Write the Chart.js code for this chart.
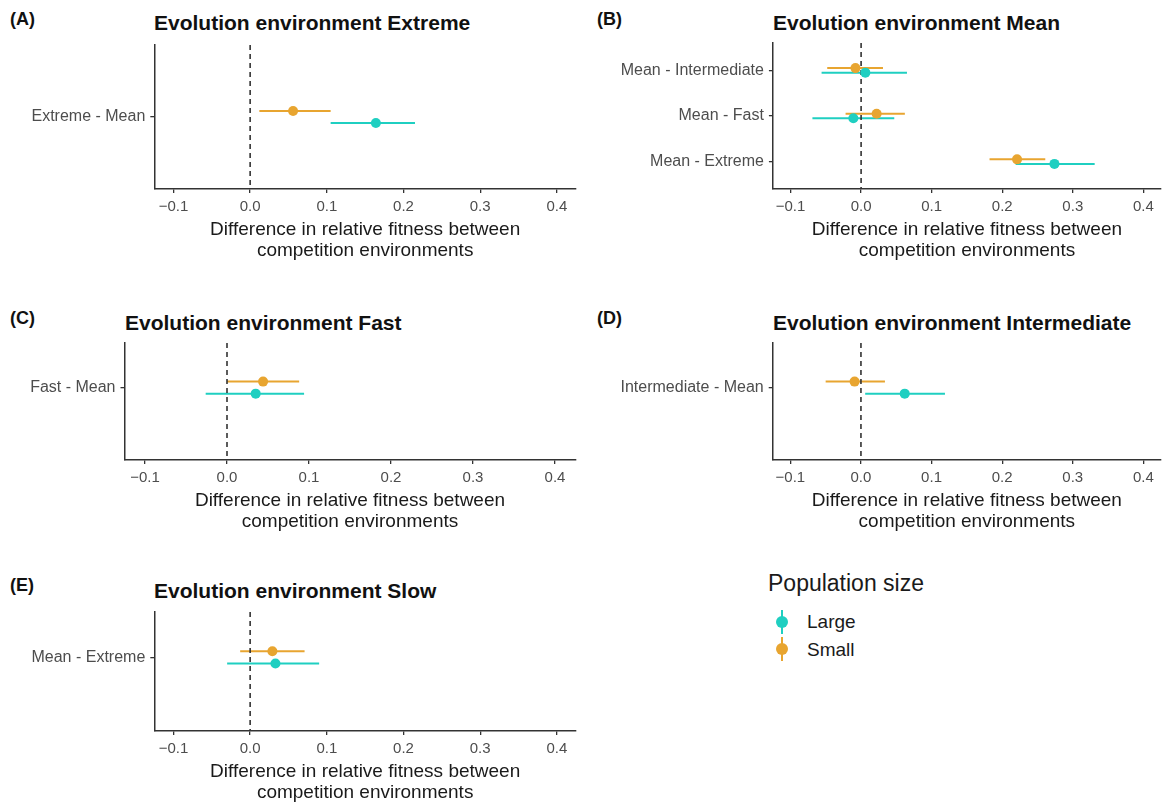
<!DOCTYPE html>
<html>
<head>
<meta charset="utf-8">
<script src="https://cdn.jsdelivr.net/npm/chart.js@4.4.1/dist/chart.umd.min.js"></script>
<style>
  body { margin: 0; background: #fff; }
  #wrap { position: relative; width: 1166px; height: 803px; background: #fff; overflow: hidden;
          font-family: 'Liberation Sans', Arial, sans-serif; }
  .panel { position: absolute; }
  .tag { position: absolute; font-weight: bold; font-size: 18px; line-height: 1; color: #111; }
  .title { position: absolute; font-weight: bold; font-size: 21px; line-height: 1; color: #111; white-space: nowrap; }
  .leg-title { position: absolute; font-size: 23px; line-height: 1; color: #1a1a1a; }
  .leg-item { position: absolute; font-size: 19px; line-height: 1; color: #1a1a1a; }
  .key { position: absolute; width: 24px; height: 24px; }
  .key .bar { position: absolute; left: 11px; top: 0; width: 2px; height: 24px; }
  .key .dot { position: absolute; left: 6px; top: 6px; width: 12px; height: 12px; border-radius: 50%; }
</style>
</head>
<body>
<div id="wrap">
  <div class="tag" style="left:10px;top:10px">(A)</div>
  <div class="title" style="left:154px;top:12px">Evolution environment Extreme</div>
  <div class="panel" style="left:0;top:40px"><canvas id="chartA" width="590" height="221"></canvas></div>

  <div class="tag" style="left:597px;top:10px">(B)</div>
  <div class="title" style="left:773px;top:12px">Evolution environment Mean</div>
  <div class="panel" style="left:600px;top:38px"><canvas id="chartB" width="566" height="223"></canvas></div>

  <div class="tag" style="left:10px;top:309px">(C)</div>
  <div class="title" style="left:125px;top:312px">Evolution environment Fast</div>
  <div class="panel" style="left:0;top:338px"><canvas id="chartC" width="590" height="194"></canvas></div>

  <div class="tag" style="left:597px;top:309px">(D)</div>
  <div class="title" style="left:773px;top:312px">Evolution environment Intermediate</div>
  <div class="panel" style="left:600px;top:338px"><canvas id="chartD" width="566" height="194"></canvas></div>

  <div class="tag" style="left:10px;top:576px">(E)</div>
  <div class="title" style="left:154px;top:580px">Evolution environment Slow</div>
  <div class="panel" style="left:0;top:607px"><canvas id="chartE" width="590" height="196"></canvas></div>

  <div class="leg-title" style="left:768px;top:572px">Population size</div>
  <div class="key" style="left:770px;top:610px"><div class="bar" style="background:#1FCFC1"></div><div class="dot" style="background:#1FCFC1"></div></div>
  <div class="leg-item" style="left:807px;top:612px">Large</div>
  <div class="key" style="left:770px;top:637px"><div class="bar" style="background:#E8A530"></div><div class="dot" style="background:#E8A530"></div></div>
  <div class="leg-item" style="left:807px;top:640px">Small</div>
</div>

<script>
// tick labels shared by every panel
const xTicks = [-0.1, 0.0, 0.1, 0.2, 0.3, 0.4];
const refLineX = 0;

// (A) Evolution environment Extreme
const extremeCats = ['Extreme - Mean'];
const extremeLarge = [0.164];
const extremeLargeLo = [0.105];
const extremeLargeHi = [0.215];
const extremeSmall = [0.056];
const extremeSmallLo = [0.012];
const extremeSmallHi = [0.105];

// (B) Evolution environment Mean
const meanCats = ['Mean - Intermediate', 'Mean - Fast', 'Mean - Extreme'];
const meanLarge = [0.006, -0.011, 0.274];
const meanLargeLo = [-0.056, -0.069, 0.219];
const meanLargeHi = [0.065, 0.047, 0.331];
const meanSmall = [-0.008, 0.022, 0.221];
const meanSmallLo = [-0.048, -0.022, 0.182];
const meanSmallHi = [0.031, 0.062, 0.261];

// (C) Evolution environment Fast
const fastCats = ['Fast - Mean'];
const fastLarge = [0.035];
const fastLargeLo = [-0.026];
const fastLargeHi = [0.094];
const fastSmall = [0.044];
const fastSmallLo = [0.0];
const fastSmallHi = [0.088];

// (D) Evolution environment Intermediate
const interCats = ['Intermediate - Mean'];
const interLarge = [0.062];
const interLargeLo = [0.006];
const interLargeHi = [0.119];
const interSmall = [-0.009];
const interSmallLo = [-0.050];
const interSmallHi = [0.034];

// (E) Evolution environment Slow
const slowCats = ['Mean - Extreme'];
const slowLarge = [0.033];
const slowLargeLo = [-0.030];
const slowLargeHi = [0.090];
const slowSmall = [0.029];
const slowSmallLo = [-0.013];
const slowSmallHi = [0.071];

const LARGE_COLOR = '#1FCFC1';
const SMALL_COLOR = '#E8A530';
const AXIS_COLOR = '#333333';
const DODGE = 0.05;

Chart.defaults.font.family = "'Liberation Sans', Arial, sans-serif";

function fmtTick(v) {
    const s = Math.abs(v).toFixed(1);
    return v < -1e-9 ? '\u2212' + s : s;
}

// horizontal error bars + dashed zero line, drawn under the points
const pointRangePlugin = {
    id: 'pointRange',
    beforeDatasetsDraw(chart) {
        const { ctx, chartArea, scales: { x, y } } = chart;
        ctx.save();
        chart.data.datasets.forEach(ds => {
            ctx.strokeStyle = ds.backgroundColor;
            ctx.lineWidth = 2;
            ds.data.forEach((p, i) => {
                const py = y.getPixelForValue(p.y);
                ctx.beginPath();
                ctx.moveTo(x.getPixelForValue(ds.errLo[i]), py);
                ctx.lineTo(x.getPixelForValue(ds.errHi[i]), py);
                ctx.stroke();
            });
        });
        const x0 = x.getPixelForValue(refLineX);
        ctx.strokeStyle = '#333';
        ctx.lineWidth = 1.6;
        ctx.setLineDash([5, 4]);
        ctx.beginPath();
        ctx.moveTo(x0, chartArea.top);
        ctx.lineTo(x0, chartArea.bottom);
        ctx.stroke();
        ctx.restore();
    }
};

function makePanel(id, cats, large, largeLo, largeHi, small, smallLo, smallHi, box) {
    const ctx = document.getElementById(id).getContext('2d');
    return new Chart(ctx, {
        type: 'scatter',
        data: {
            datasets: [
                {
                    label: 'Small',
                    data: cats.map((c, i) => ({ x: small[i], y: i + 1 - DODGE })),
                    errLo: smallLo, errHi: smallHi,
                    backgroundColor: SMALL_COLOR,
                    borderWidth: 0,
                    pointRadius: 5
                },
                {
                    label: 'Large',
                    data: cats.map((c, i) => ({ x: large[i], y: i + 1 + DODGE })),
                    errLo: largeLo, errHi: largeHi,
                    backgroundColor: LARGE_COLOR,
                    borderWidth: 0,
                    pointRadius: 5
                }
            ]
        },
        options: {
            responsive: false,
            animation: false,
            events: [],
            layout: { padding: { top: box.padTop, right: box.padRight, left: 0, bottom: 0 } },
            plugins: { legend: { display: false }, tooltip: { enabled: false } },
            scales: {
                x: {
                    type: 'linear',
                    min: -0.125,
                    max: 0.425,
                    afterBuildTicks: s => { s.ticks = xTicks.map(v => ({ value: v })); },
                    afterFit: s => { s.height = 72; s.paddingLeft = 0; s.paddingRight = 0; },
                    ticks: { callback: v => fmtTick(v), font: { size: 15 }, color: '#4d4d4d', padding: 5, maxRotation: 0 },
                    grid: { drawOnChartArea: false, drawTicks: true, tickLength: 4, color: AXIS_COLOR, lineWidth: 1.3 },
                    border: { display: true, color: AXIS_COLOR, width: 1.5 },
                    title: {
                        display: true,
                        text: ['Difference in relative fitness between', 'competition environments'],
                        font: { size: 19, lineHeight: 1.1 },
                        color: '#1a1a1a',
                        padding: { top: 0, bottom: 0 }
                    }
                },
                y: {
                    type: 'linear',
                    reverse: true,
                    min: box.yMin,
                    max: box.yMax,
                    afterBuildTicks: s => { s.ticks = cats.map((c, i) => ({ value: i + 1 })); },
                    afterFit: s => { s.width = box.axisW; s.paddingTop = 0; s.paddingBottom = 0; },
                    ticks: { callback: v => cats[Math.round(v) - 1], font: { size: 16 }, color: '#4d4d4d', padding: 5 },
                    grid: { drawOnChartArea: false, drawTicks: true, tickLength: 4, color: AXIS_COLOR, lineWidth: 1.3 },
                    border: { display: true, color: AXIS_COLOR, width: 1.5 }
                }
            }
        },
        plugins: [pointRangePlugin]
    });
}

makePanel('chartA', extremeCats, extremeLarge, extremeLargeLo, extremeLargeHi,
    extremeSmall, extremeSmallLo, extremeSmallHi,
    { yMin: 0.4, yMax: 1.6, axisW: 154.3, padTop: 5, padRight: 14 });

makePanel('chartB', meanCats, meanLarge, meanLargeLo, meanLargeHi,
    meanSmall, meanSmallLo, meanSmallHi,
    { yMin: 0.4, yMax: 3.6, axisW: 172.9, padTop: 5, padRight: 1 });

makePanel('chartC', fastCats, fastLarge, fastLargeLo, fastLargeHi,
    fastSmall, fastSmallLo, fastSmallHi,
    { yMin: 0.63, yMax: 1.6, axisW: 124.5, padTop: 5, padRight: 14.5 });

makePanel('chartD', interCats, interLarge, interLargeLo, interLargeHi,
    interSmall, interSmallLo, interSmallHi,
    { yMin: 0.63, yMax: 1.6, axisW: 172.7, padTop: 5, padRight: 1 });

makePanel('chartE', slowCats, slowLarge, slowLargeLo, slowLargeHi,
    slowSmall, slowSmallLo, slowSmallHi,
    { yMin: 0.63, yMax: 1.6, axisW: 154.3, padTop: 5, padRight: 14 });
</script>
</body>
</html>
